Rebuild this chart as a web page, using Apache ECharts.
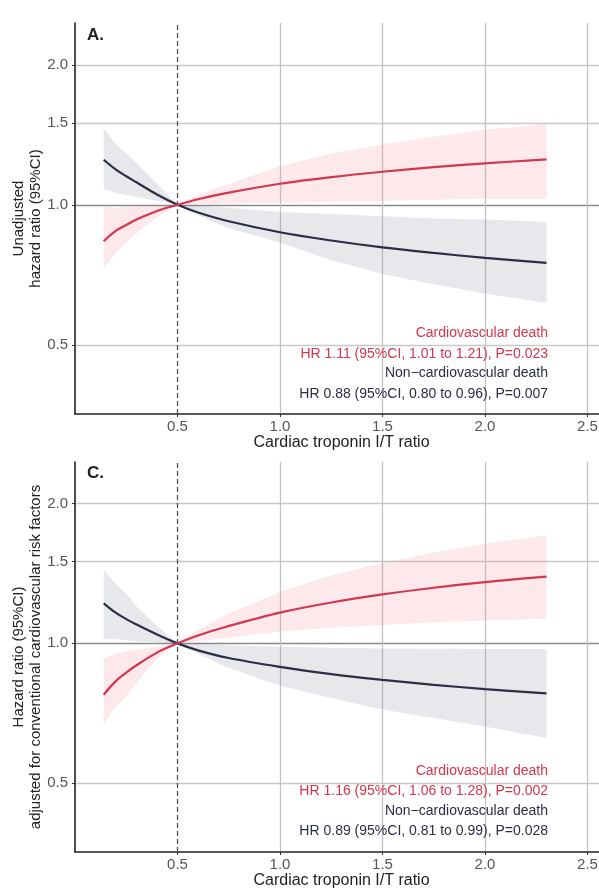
<!DOCTYPE html>
<html><head><meta charset="utf-8">
<script src="https://cdn.jsdelivr.net/npm/echarts@6/dist/echarts.min.js"></script>
<style>html,body{margin:0;padding:0;background:#fff;overflow:hidden}#c{width:599px;height:888px}</style>
</head><body><div id="c"></div>
<script>
// x positions (Cardiac troponin I/T ratio)
const xs = [0.14, 0.2, 0.25, 0.3, 0.4, 0.5, 0.6, 0.75, 1.0, 1.25, 1.5, 1.75, 2.0, 2.3];

// Panel A (unadjusted)
const aCvd     = [0.835, 0.88, 0.905, 0.93, 0.97, 1.0, 1.028, 1.062, 1.11, 1.147, 1.178, 1.205, 1.228, 1.252];
const aCvdHi   = [0.99, 0.985, 0.99, 0.99, 0.995, 1.0, 1.05, 1.11, 1.21, 1.29, 1.35, 1.40, 1.45, 1.49];
const aCvdLo   = [0.73, 0.79, 0.83, 0.87, 0.94, 1.0, 1.005, 1.005, 1.01, 1.015, 1.02, 1.025, 1.03, 1.03];
const aNcvd    = [1.25, 1.19, 1.152, 1.118, 1.052, 1.0, 0.963, 0.922, 0.873, 0.838, 0.81, 0.788, 0.769, 0.75];
const aNcvdHi  = [1.46, 1.35, 1.29, 1.23, 1.11, 1.0, 0.995, 0.985, 0.965, 0.955, 0.945, 0.935, 0.93, 0.92];
const aNcvdLo  = [1.08, 1.06, 1.05, 1.04, 1.02, 1.0, 0.95, 0.89, 0.83, 0.76, 0.71, 0.675, 0.645, 0.615];

// Panel C (adjusted)
const cCvd     = [0.775, 0.83, 0.865, 0.897, 0.955, 1.0, 1.04, 1.09, 1.165, 1.225, 1.275, 1.318, 1.355, 1.392];
const cCvdHi   = [0.93, 0.95, 0.96, 0.97, 0.985, 1.0, 1.07, 1.16, 1.29, 1.40, 1.49, 1.57, 1.64, 1.71];
const cCvdLo   = [0.67, 0.73, 0.77, 0.82, 0.93, 1.0, 1.01, 1.03, 1.06, 1.08, 1.095, 1.11, 1.12, 1.13];
const cNcvd    = [1.22, 1.163, 1.128, 1.098, 1.045, 1.0, 0.966, 0.93, 0.89, 0.858, 0.834, 0.814, 0.797, 0.78];
const cNcvdHi  = [1.44, 1.34, 1.28, 1.20, 1.09, 1.0, 1.0, 0.99, 0.983, 0.978, 0.975, 0.973, 0.972, 0.972];
const cNcvdLo  = [1.025, 1.02, 1.015, 1.01, 1.005, 1.0, 0.95, 0.885, 0.81, 0.762, 0.72, 0.69, 0.662, 0.625];

// tick values / labels
const yTicks = [0.5, 1.0, 1.5, 2.0];
const xTicks = [0.5, 1.0, 1.5, 2.0, 2.5];
const refRatio = 0.5; // dashed reference ratio

const panelLabels = ['A.', 'C.'];
const yNames = ['Unadjusted\nhazard ratio (95%CI)', 'Hazard ratio (95%CI)\nadjusted for conventional cardiovascular risk factors'];
const xName = 'Cardiac troponin I/T ratio';
const notesA = ['Cardiovascular death', 'HR 1.11 (95%CI, 1.01 to 1.21), P=0.023', 'Non\u2212cardiovascular death', 'HR 0.88 (95%CI, 0.80 to 0.96), P=0.007'];
const notesC = ['Cardiovascular death', 'HR 1.16 (95%CI, 1.06 to 1.28), P=0.002', 'Non\u2212cardiovascular death', 'HR 0.89 (95%CI, 0.81 to 0.99), P=0.028'];

const RED = '#d3364f', NAVY = '#2b2e44';
const PINK = 'rgba(244,130,150,0.18)', GREYB = 'rgba(120,126,152,0.18)';
const FONT = 'Liberation Sans, Arial, sans-serif';

const pts = arr => xs.map((x, i) => [x, arr[i]]);
const band = (lo, hi) => xs.map((x, i) => [x, lo[i], hi[i]]);

const chart = echarts.init(document.getElementById('c'));

function axes(idx) {
  return {
    x: {
      type: 'value', gridIndex: idx, min: 0, max: 2.6, interval: 0.5,
      axisLine: { show: true, onZero: false, lineStyle: { color: '#222', width: 1.6 } },
      axisTick: { show: true, length: 3, lineStyle: { color: '#333' }, customValues: xTicks },
      axisLabel: { customValues: xTicks, formatter: v => v.toFixed(1), color: '#555', fontSize: 15, margin: 5, fontFamily: FONT },
      splitLine: { show: true, lineStyle: { color: ['rgba(0,0,0,0)', '#c4c4c4', '#c4c4c4', '#c4c4c4', '#c4c4c4'], width: 1.3 } },
      name: xName, nameLocation: 'middle', nameGap: 21, nameMoveOverlap: false,
      nameTextStyle: { color: '#222', fontSize: 16, fontFamily: FONT }
    },
    y: {
      type: 'log', gridIndex: idx, min: 0.355, max: 2.46,
      axisLine: { show: true, lineStyle: { color: '#222', width: 1.6 } },
      axisTick: { show: true, length: 3, lineStyle: { color: '#333' }, customValues: yTicks },
      axisLabel: { customValues: yTicks, formatter: v => Number(v).toFixed(1), color: '#555', fontSize: 15, margin: 7, fontFamily: FONT },
      splitLine: { show: true, lineStyle: { color: ['#c8c8c8', '#8a8a8a', '#c8c8c8', '#c8c8c8'], width: 1.3 } },
      minorTick: { show: false }, minorSplitLine: { show: false },
      name: yNames[idx], nameLocation: 'middle', nameRotate: 90, nameGap: 31, nameMoveOverlap: false,
      nameTextStyle: { color: '#222', fontSize: 15, lineHeight: 17, fontFamily: FONT }
    }
  };
}

function bandSeries(idx, data, color) {
  return {
    type: 'custom', xAxisIndex: idx, yAxisIndex: idx, silent: true, clip: true, z: 2,
    data: data, encode: { x: 0, y: [1, 2] },
    renderItem: function (params, api) {
      if (params.dataIndex !== 0) return null;
      const top = [], bot = [];
      for (let i = 0; i < data.length; i++) {
        top.push(api.coord([data[i][0], data[i][2]]));
        bot.push(api.coord([data[i][0], data[i][1]]));
      }
      return { type: 'polygon', shape: { points: top.concat(bot.reverse()) }, style: { fill: color } };
    }
  };
}

function panelSeries(idx, cvd, cvdHi, cvdLo, ncvd, ncvdHi, ncvdLo) {
  const base = { xAxisIndex: idx, yAxisIndex: idx, type: 'line', symbol: 'none', smooth: 0.35, silent: true, z: 5 };
  return [
    bandSeries(idx, band(cvdLo, cvdHi), PINK),
    bandSeries(idx, band(ncvdLo, ncvdHi), GREYB),
    Object.assign({}, base, { name: 'n' + idx, data: pts(ncvd), lineStyle: { color: NAVY, width: 2.2 },
      markLine: { silent: true, symbol: 'none', label: { show: false },
        lineStyle: { color: '#555', type: [5, 3], width: 1.3 }, data: [{ xAxis: refRatio }] } }),
    Object.assign({}, base, { name: 'c' + idx, data: pts(cvd), lineStyle: { color: RED, width: 2.2 } })
  ];
}

const aA = axes(0), aC = axes(1);

function notes(list, ys) {
  const cols = [RED, RED, NAVY, NAVY];
  return list.map((t, i) => ({
    type: 'text', z: 100, x: 548, y: ys[i],
    style: { text: t, textAlign: 'right', textVerticalAlign: 'middle', fill: cols[i], font: '14px ' + FONT }
  }));
}

chart.setOption({
  animation: false,
  textStyle: { fontFamily: FONT },
  grid: [
    { left: 75, top: 23, width: 533, height: 391, outerBoundsMode: 'none', containLabel: false },
    { left: 75, top: 462, width: 533, height: 390, outerBoundsMode: 'none', containLabel: false }
  ],
  xAxis: [aA.x, aC.x],
  yAxis: [aA.y, aC.y],
  series: [].concat(
    panelSeries(0, aCvd, aCvdHi, aCvdLo, aNcvd, aNcvdHi, aNcvdLo),
    panelSeries(1, cCvd, cCvdHi, cCvdLo, cNcvd, cNcvdHi, cNcvdLo)
  ),
  graphic: [
    { type: 'text', x: 87, y: 35, style: { text: panelLabels[0], textVerticalAlign: 'middle', fill: '#222', font: 'bold 17px ' + FONT } },
    { type: 'text', x: 87, y: 473, style: { text: panelLabels[1], textVerticalAlign: 'middle', fill: '#222', font: 'bold 17px ' + FONT } }
  ].concat(notes(notesA, [333, 354, 373, 394]), notes(notesC, [771, 791, 811, 831]))
});
</script>
</body></html>
